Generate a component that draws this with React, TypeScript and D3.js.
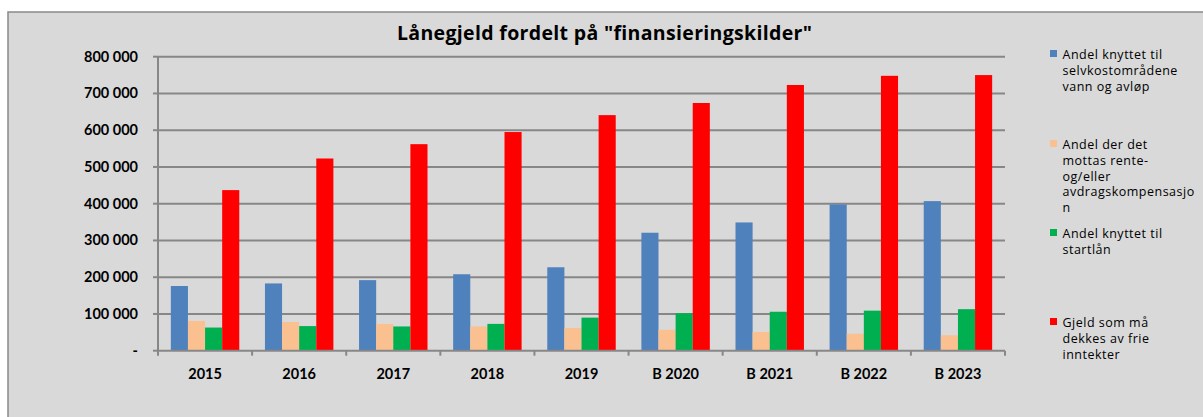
import React from "react";
import * as d3 from "d3";

const categories = ["2015", "2016", "2017", "2018", "2019", "B 2020", "B 2021", "B 2022", "B 2023"];
const selvkost = [176000, 183000, 192000, 208000, 227000, 321000, 349000, 398000, 407000];
const kompensasjon = [81000, 78000, 73000, 66000, 62000, 57000, 51000, 46000, 42000];
const startlan = [63000, 67000, 66000, 73000, 90000, 102000, 106000, 109000, 113000];
const frieInntekter = [437000, 523000, 562000, 595000, 641000, 674000, 723000, 748000, 750000];
const yTicks = [0, 100000, 200000, 300000, 400000, 500000, 600000, 700000, 800000];

const seriesNames = [
  ["Andel knyttet til", "selvkostområdene", "vann og avløp"],
  ["Andel der det", "mottas rente-", "og/eller", "avdragskompensasjo", "n"],
  ["Andel knyttet til", "startlån"],
  ["Gjeld som må", "dekkes av frie", "inntekter"],
];
const seriesValues = [selvkost, kompensasjon, startlan, frieInntekter];
const colors = ["#4F81BD", "#FAC090", "#00B050", "#FF0000"];
const legendTop = [50, 140, 229, 318];

const FONT = "Lato, 'Open Sans', sans-serif";
const LFONT = "'Open Sans', Lato, sans-serif";

export default function App() {
  const W = 1203, H = 417;
  const left = 158, right = 1005, top = 56.7, bottom = 350.7;
  const x = d3.scaleBand<string>().domain(categories).range([left, right]).padding(0);
  const y = d3.scaleLinear().domain([0, 800000]).range([bottom, top]);
  const bw = x.bandwidth();
  const barW = bw / 5.5;
  const inner = d3.scaleBand<number>().domain([0, 1, 2, 3]).range([(bw - 4 * barW) / 2, (bw + 4 * barW) / 2]).padding(0);
  const fmt = (v: number) => (v === 0 ? "-" : d3.format(",")(v).replace(/,/g, " "));

  return (
    <div style={{ position: "fixed", left: 0, top: 0 }}>
      <svg width={W} height={H} style={{ display: "block", background: "#fff" }}>
        <rect x={8} y={12} width={W + 10} height={H + 10} fill="#D9D9D9" stroke="#898989" strokeWidth={1.5} />
        <text x={604.5} y={39.5} textAnchor="middle" fontFamily={LFONT} fontWeight="bold" fontSize={19.5} fill="#000"
          textLength={415} lengthAdjust="spacing" style={{ fontVariantLigatures: "none" }}>
          Lånegjeld fordelt på "finansieringskilder"
        </text>
        {yTicks.map((t) => (
          <g key={t}>
            {t > 0 && <line x1={left} x2={right} y1={y(t)} y2={y(t)} stroke="#878787" strokeWidth={2} />}
            <line x1={left - 5} x2={left} y1={y(t)} y2={y(t)} stroke="#878787" strokeWidth={2} />
            <text x={138} y={y(t) + 5} textAnchor="end" fontFamily={FONT} fontWeight="bold" fontSize={14.5} fill="#000">
              {fmt(t)}
            </text>
          </g>
        ))}
        {seriesValues.map((vals, si) =>
          vals.map((v, ci) => (
            <rect
              key={`${si}-${ci}`}
              x={(x(categories[ci]) as number) + (inner(si) as number)}
              y={y(v)}
              width={inner.bandwidth()}
              height={bottom - y(v)}
              fill={colors[si]}
            />
          ))
        )}
        <line x1={left} x2={left} y1={top} y2={bottom} stroke="#878787" strokeWidth={2} />
        <line x1={left} x2={right} y1={bottom} y2={bottom} stroke="#878787" strokeWidth={2} />
        {categories.map((c, i) => (
          <line key={"t" + c} x1={left + i * bw} x2={left + i * bw} y1={bottom} y2={bottom + 5} stroke="#878787" strokeWidth={2} />
        ))}
        <line x1={right} x2={right} y1={bottom} y2={bottom + 5} stroke="#878787" strokeWidth={2} />
        {categories.map((c) => (
          <text key={c} x={(x(c) as number) + bw / 2} y={379} textAnchor="middle" fontFamily={FONT} fontWeight="bold" fontSize={14.5} fill="#000">
            {c}
          </text>
        ))}
        {seriesNames.map((lines, si) => (
          <g key={"l" + si}>
            <rect x={1050} y={legendTop[si]} width={7} height={7} fill={colors[si]} />
            {lines.map((ln, li) => (
              <text key={li} x={1062.5} y={legendTop[si] + 9 + li * 15.8} fontFamily={LFONT} fontSize={12.5} letterSpacing={0.5} fill="#000">
                {ln}
              </text>
            ))}
          </g>
        ))}
      </svg>
    </div>
  );
}
